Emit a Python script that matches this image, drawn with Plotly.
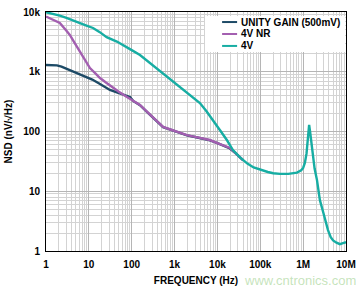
import plotly.graph_objects as go

# ---------------- data ----------------
series_names = ["UNITY GAIN (500mV)", "4V NR", "4V"]
series_colors = ["#1D4A66", "#A35FB0", "#17ADA3"]

freq_unity = [1, 1.5, 1.8, 2.3, 3, 4.3, 6, 8.6, 12, 17, 24, 31, 45, 65, 91,
              110, 156, 250, 380, 540, 800, 1200, 1950, 3000, 4500, 6700,
              10000, 14000, 19600, 25000, 33700, 40000]
nsd_unity = [1300, 1300, 1280, 1220, 1120, 1000, 920, 820, 740, 640, 560, 495, 450, 410, 378,
             322, 276, 200, 150, 118, 107, 97, 86, 81, 76, 71,
             64, 58, 52, 45, 37, 33]

freq_nr = [1, 1.5, 2.1, 3, 3.6, 4.5, 6.2, 8, 10.6, 14, 18.2, 25, 36.6, 50, 77.5,
           110, 156, 250, 380, 540, 800, 1200, 1950, 3000, 4500, 6700,
           10000, 14000, 19600, 25000, 33700, 40000]
nsd_nr = [8400, 7400, 6550, 4850, 4120, 3150, 2140, 1600, 1155, 950, 786, 660, 535, 463, 378,
          324, 278, 201, 151, 119, 108, 98, 87, 81.5, 76.5, 72,
          64, 58, 53, 45, 37, 33]

freq_4v = [1, 1.5, 2.1, 3, 4.3, 6, 8.5, 12.5, 18, 26, 45, 70, 100, 156, 300, 450, 660,
           920, 1400, 2000, 2700, 3900, 5500, 7900, 11500, 16600, 23000, 33700, 50000,
           70000, 98000, 150000, 200000, 290000, 450000, 720000, 900000, 1000000,
           1100000, 1200000, 1300000, 1380000, 1450000, 1550000, 1700000, 1850000,
           2100000, 2460000, 2950000, 3400000, 3800000, 4400000, 5000000, 6000000,
           7200000, 8500000, 10000000]
nsd_4v = [9900, 9300, 8700, 8000, 7350, 6600, 6000, 5400, 4600, 3800, 3200, 2700, 2300, 1900, 1300, 1030, 823,
          679, 532, 433, 363, 300, 220, 150, 105, 72, 49, 37, 29,
          25, 23, 21, 20, 19.5, 19.5, 20.5, 22.5, 24.5,
          30, 43, 81, 129, 100, 70, 37, 24,
          15.5, 7.1, 4.4, 3.0, 2.24, 1.7, 1.5, 1.38,
          1.3, 1.35, 1.4]

x_tickvals = [1, 10, 100, 1e3, 1e4, 1e5, 1e6, 1e7]
x_ticktext = ["1", "10", "100", "1k", "10k", "100k", "1M", "10M"]
y_tickvals = [1, 10, 100, 1e3, 1e4]
y_ticktext = ["1", "10", "100", "1k", "10k"]

x_title = "FREQUENCY (Hz)"
y_title = "NSD (nV/√Hz)"
watermark = "www.cntronics.com"

# ---------------- figure ----------------
FONT = "Liberation Sans, Arial, sans-serif"
fig = go.Figure()
for name, color, xs, ys in zip(series_names, series_colors,
                               [freq_unity, freq_nr, freq_4v],
                               [nsd_unity, nsd_nr, nsd_4v]):
    fig.add_trace(go.Scatter(x=xs, y=ys, mode="lines", name=name,
                             line=dict(color=color, width=2.4), showlegend=False))

minor_x = [m * 10 ** d for d in range(0, 7) for m in range(2, 10)]
minor_y = [m * 10 ** d for d in range(0, 4) for m in range(2, 10)]

axis_common = dict(showline=True, linecolor="black", linewidth=1, mirror=True,
                   ticks="", showgrid=True, gridcolor="#B5B5B5", gridwidth=1,
                   zeroline=False, automargin=False,
                   tickfont=dict(family=FONT, size=10, color="black", weight="bold"))

fig.update_xaxes(type="log", range=[0, 7], tickvals=x_tickvals, ticktext=x_ticktext,
                 minor=dict(tickvals=minor_x, showgrid=True, gridcolor="#D3D3D3", gridwidth=1, ticks=""),
                 ticklabelstandoff=4,
                 title=dict(text=x_title, font=dict(family=FONT, size=10, color="black", weight="bold"),
                            standoff=7),
                 **axis_common)
fig.update_yaxes(type="log", range=[0, 4], tickvals=y_tickvals, ticktext=y_ticktext,
                 minor=dict(tickvals=minor_y, showgrid=True, gridcolor="#D3D3D3", gridwidth=1, ticks=""),
                 ticklabelstandoff=3,
                 title=dict(text=y_title, font=dict(family=FONT, size=10, color="black", weight="bold"),
                            standoff=8),
                 **axis_common)

# custom compact legend (white box, short line samples)
shapes = [dict(type="rect", xref="paper", yref="paper", x0=0.53, x1=0.997, y0=0.833, y1=0.983,
               fillcolor="white", line=dict(width=0), layer="above")]
annotations = []
row_y = [0.958, 0.908, 0.858]
for name, color, yy in zip(series_names, series_colors, row_y):
    shapes.append(dict(type="line", xref="paper", yref="paper", x0=0.587, x1=0.637, y0=yy, y1=yy,
                       line=dict(color=color, width=2), layer="above"))
    annotations.append(dict(text=name, xref="paper", yref="paper", x=0.643, y=yy,
                            xanchor="left", yanchor="middle", showarrow=False,
                            font=dict(family=FONT, size=10, color="black", weight="bold")))

annotations.append(dict(text=watermark, xref="paper", yref="paper", x=1.04, y=-0.125,
                        xanchor="right", yanchor="middle", showarrow=False,
                        font=dict(family=FONT, size=13, color="rgba(140,200,120,0.5)")))

fig.update_layout(width=360, height=287, margin=dict(l=46, r=14, t=12, b=36),
                  paper_bgcolor="white", plot_bgcolor="white",
                  shapes=shapes, annotations=annotations, showlegend=False)

fig.write_html("out.html")
